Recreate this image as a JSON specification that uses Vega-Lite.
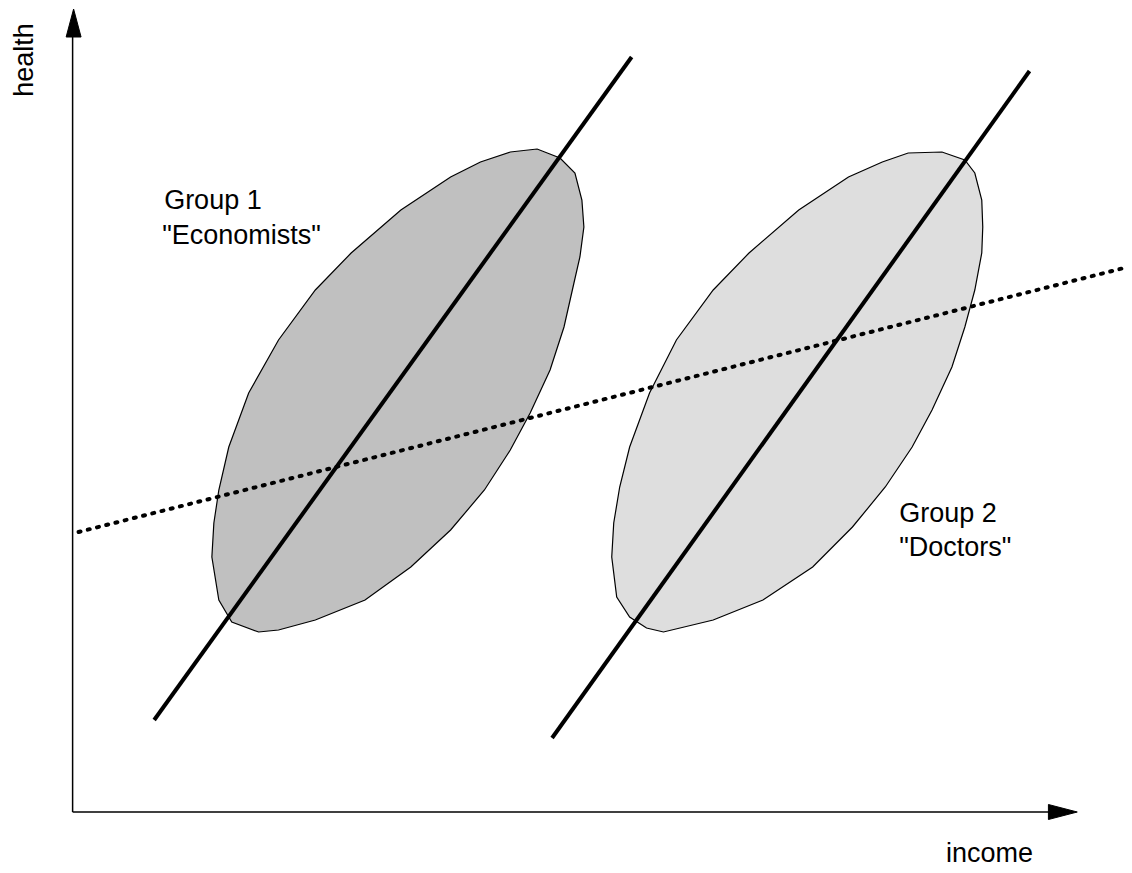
{
  "$schema": "https://vega.github.io/schema/vega-lite/v6.json",
  "autosize": {"type": "fit", "contains": "padding"},
  "width": 1132,
  "height": 873,
  "padding": 0,
  "background": "white",
  "config": {"view": {"stroke": null}},
  "datasets": {
    "ell": [
      {"g": "E1", "i": 1, "x": 513, "y": 152}, {"g": "E1", "i": 2, "x": 540, "y": 149}, {"g": "E1", "i": 3, "x": 563, "y": 158}, {"g": "E1", "i": 4, "x": 578, "y": 173}, {"g": "E1", "i": 5, "x": 585, "y": 200}, {"g": "E1", "i": 6, "x": 587, "y": 227}, {"g": "E1", "i": 7, "x": 583, "y": 257}, {"g": "E1", "i": 8, "x": 577, "y": 283}, {"g": "E1", "i": 9, "x": 567, "y": 327}, {"g": "E1", "i": 10, "x": 553, "y": 370}, {"g": "E1", "i": 11, "x": 533, "y": 413}, {"g": "E1", "i": 12, "x": 513, "y": 450}, {"g": "E1", "i": 13, "x": 487, "y": 490}, {"g": "E1", "i": 14, "x": 453, "y": 530}, {"g": "E1", "i": 15, "x": 413, "y": 567}, {"g": "E1", "i": 16, "x": 367, "y": 600}, {"g": "E1", "i": 17, "x": 317, "y": 620}, {"g": "E1", "i": 18, "x": 280, "y": 630}, {"g": "E1", "i": 19, "x": 260, "y": 632}, {"g": "E1", "i": 20, "x": 233, "y": 622}, {"g": "E1", "i": 21, "x": 220, "y": 600}, {"g": "E1", "i": 22, "x": 213, "y": 557}, {"g": "E1", "i": 23, "x": 215, "y": 523}, {"g": "E1", "i": 24, "x": 220, "y": 490}, {"g": "E1", "i": 25, "x": 230, "y": 447}, {"g": "E1", "i": 26, "x": 250, "y": 393}, {"g": "E1", "i": 27, "x": 280, "y": 340}, {"g": "E1", "i": 28, "x": 317, "y": 290}, {"g": "E1", "i": 29, "x": 353, "y": 253}, {"g": "E1", "i": 30, "x": 403, "y": 210}, {"g": "E1", "i": 31, "x": 453, "y": 177}, {"g": "E1", "i": 32, "x": 483, "y": 162},
      {"g": "E2", "i": 1, "x": 913, "y": 153}, {"g": "E2", "i": 2, "x": 947, "y": 152}, {"g": "E2", "i": 3, "x": 970, "y": 160}, {"g": "E2", "i": 4, "x": 980, "y": 173}, {"g": "E2", "i": 5, "x": 987, "y": 200}, {"g": "E2", "i": 6, "x": 988, "y": 227}, {"g": "E2", "i": 7, "x": 987, "y": 253}, {"g": "E2", "i": 8, "x": 980, "y": 290}, {"g": "E2", "i": 9, "x": 970, "y": 327}, {"g": "E2", "i": 10, "x": 957, "y": 367}, {"g": "E2", "i": 11, "x": 937, "y": 410}, {"g": "E2", "i": 12, "x": 917, "y": 447}, {"g": "E2", "i": 13, "x": 890, "y": 487}, {"g": "E2", "i": 14, "x": 857, "y": 527}, {"g": "E2", "i": 15, "x": 817, "y": 567}, {"g": "E2", "i": 16, "x": 767, "y": 600}, {"g": "E2", "i": 17, "x": 717, "y": 620}, {"g": "E2", "i": 18, "x": 667, "y": 632}, {"g": "E2", "i": 19, "x": 650, "y": 628}, {"g": "E2", "i": 20, "x": 633, "y": 617}, {"g": "E2", "i": 21, "x": 620, "y": 597}, {"g": "E2", "i": 22, "x": 615, "y": 557}, {"g": "E2", "i": 23, "x": 617, "y": 523}, {"g": "E2", "i": 24, "x": 623, "y": 487}, {"g": "E2", "i": 25, "x": 633, "y": 447}, {"g": "E2", "i": 26, "x": 653, "y": 393}, {"g": "E2", "i": 27, "x": 680, "y": 340}, {"g": "E2", "i": 28, "x": 717, "y": 290}, {"g": "E2", "i": 29, "x": 753, "y": 253}, {"g": "E2", "i": 30, "x": 803, "y": 210}, {"g": "E2", "i": 31, "x": 853, "y": 177}, {"g": "E2", "i": 32, "x": 887, "y": 162}
    ],
    "solid": [
      {"g": "L1", "i": 1, "x": 155, "y": 720}, {"g": "L1", "i": 2, "x": 635, "y": 57},
      {"g": "L2", "i": 1, "x": 555, "y": 738}, {"g": "L2", "i": 2, "x": 1035, "y": 71}
    ],
    "dotted": [
      {"g": "D", "i": 1, "x": 79, "y": 532}, {"g": "D", "i": 2, "x": 1130, "y": 268}
    ],
    "axes": [
      {"g": "Y", "i": 1, "x": 73, "y": 812}, {"g": "Y", "i": 2, "x": 73, "y": 30},
      {"g": "X", "i": 1, "x": 73, "y": 812}, {"g": "X", "i": 2, "x": 1060, "y": 812}
    ],
    "heads": [
      {"g": "HY", "i": 1, "x": 74, "y": 9}, {"g": "HY", "i": 2, "x": 81.5, "y": 37}, {"g": "HY", "i": 3, "x": 66.5, "y": 37},
      {"g": "HX", "i": 1, "x": 1083, "y": 812}, {"g": "HX", "i": 2, "x": 1054, "y": 804.5}, {"g": "HX", "i": 3, "x": 1054, "y": 819.5}
    ],
    "labels": [
      {"x": 165, "y": 209, "label": "Group 1"},
      {"x": 163, "y": 244, "label": "\"Economists\""},
      {"x": 904, "y": 522, "label": "Group 2"},
      {"x": 904, "y": 556, "label": "\"Doctors\""},
      {"x": 951, "y": 862, "label": "income"}
    ],
    "ylabel": [
      {"x": 33, "y": 60, "label": "health"}
    ]
  },
  "encoding": {
    "x": {"field": "x", "type": "quantitative", "scale": {"domain": [0, 1132], "nice": false, "zero": false}, "axis": null},
    "y": {"field": "y", "type": "quantitative", "scale": {"domain": [0, 873], "nice": false, "zero": false, "reverse": true}, "axis": null}
  },
  "layer": [
    {
      "data": {"name": "ell"},
      "transform": [{"filter": "datum.g === 'E1'"}],
      "mark": {"type": "line", "interpolate": "linear-closed", "fill": "#c0c0c0", "stroke": "black", "strokeWidth": 1.2},
      "encoding": {"order": {"field": "i", "type": "quantitative"}}
    },
    {
      "data": {"name": "ell"},
      "transform": [{"filter": "datum.g === 'E2'"}],
      "mark": {"type": "line", "interpolate": "linear-closed", "fill": "#dedede", "stroke": "black", "strokeWidth": 1.2},
      "encoding": {"order": {"field": "i", "type": "quantitative"}}
    },
    {
      "data": {"name": "solid"},
      "mark": {"type": "line", "stroke": "black", "strokeWidth": 4},
      "encoding": {"detail": {"field": "g"}, "order": {"field": "i", "type": "quantitative"}}
    },
    {
      "data": {"name": "dotted"},
      "mark": {"type": "line", "stroke": "black", "strokeWidth": 4, "strokeDash": [2, 7.5], "strokeCap": "round"},
      "encoding": {"detail": {"field": "g"}, "order": {"field": "i", "type": "quantitative"}}
    },
    {
      "data": {"name": "axes"},
      "mark": {"type": "line", "stroke": "black", "strokeWidth": 1.5},
      "encoding": {"detail": {"field": "g"}, "order": {"field": "i", "type": "quantitative"}}
    },
    {
      "data": {"name": "heads"},
      "mark": {"type": "line", "interpolate": "linear-closed", "fill": "black", "stroke": "black", "strokeWidth": 1},
      "encoding": {"detail": {"field": "g"}, "order": {"field": "i", "type": "quantitative"}}
    },
    {
      "data": {"name": "labels"},
      "mark": {"type": "text", "align": "left", "baseline": "alphabetic", "font": "Liberation Sans", "fontSize": 27, "color": "black"},
      "encoding": {"text": {"field": "label"}}
    },
    {
      "data": {"name": "ylabel"},
      "mark": {"type": "text", "align": "center", "baseline": "alphabetic", "angle": 270, "font": "Liberation Sans", "fontSize": 27, "color": "black"},
      "encoding": {"text": {"field": "label"}}
    }
  ]
}
